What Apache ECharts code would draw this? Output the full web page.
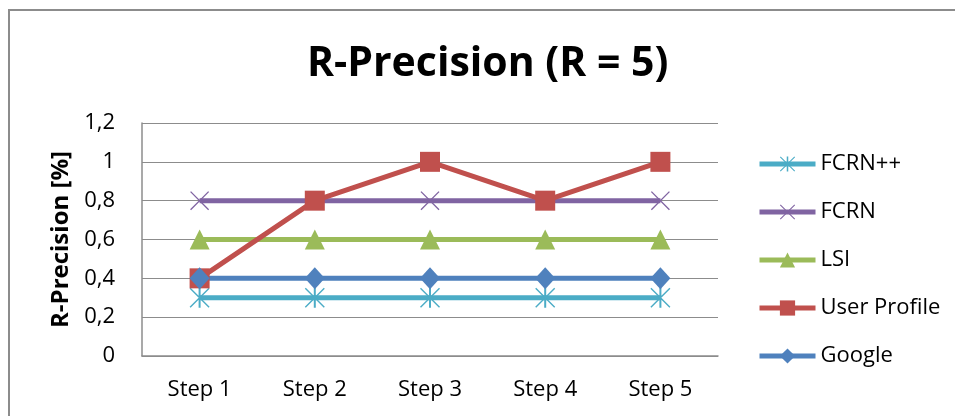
<!DOCTYPE html>
<html>
<head>
<meta charset="utf-8">
<script src="https://cdn.jsdelivr.net/npm/echarts@6/dist/echarts.min.js"></script>
<style>
html,body{margin:0;padding:0;background:#fff;}
#chart{width:955px;height:416px;}
</style>
</head>
<body>
<div id="chart"></div>
<script>
// Categories and series values
const steps = ['Step 1', 'Step 2', 'Step 3', 'Step 4', 'Step 5'];
const fcrnPlusPlus = [0.3, 0.3, 0.3, 0.3, 0.3];
const fcrn = [0.8, 0.8, 0.8, 0.8, 0.8];
const lsi = [0.6, 0.6, 0.6, 0.6, 0.6];
const userProfile = [0.4, 0.8, 1, 0.8, 1];
const google = [0.4, 0.4, 0.4, 0.4, 0.4];

const FONT = '"Open Sans"';

// Marker shapes built from thin filled bars
const crossPath = 'path://M0,5L5,0L100,95L95,100ZM95,0L100,5L5,100L0,95Z';
const asteriskPath = 'path://M0,5L5,0L100,95L95,100ZM95,0L100,5L5,100L0,95ZM45,0L55,0L55,100L45,100Z';

function lineSeries(name, data, color, symbol, size) {
  return {
    name: name,
    type: 'line',
    data: data,
    symbol: symbol,
    symbolSize: size,
    showAllSymbol: true,
    lineStyle: { color: color, width: 5 },
    itemStyle: { color: color },
    emphasis: { disabled: true },
    animation: false
  };
}

const chart = echarts.init(document.getElementById('chart'), null, { renderer: 'canvas' });
chart.setOption({
  backgroundColor: '#fff',
  animation: false,
  title: {
    text: 'R-Precision (R = 5)',
    left: 302,
    top: 39,
    textStyle: { fontFamily: FONT, fontSize: 41, fontWeight: 'bold', color: '#000' }
  },
  graphic: [{
    type: 'rect',
    shape: { x: 9, y: 10, width: 960, height: 420 },
    style: { fill: 'none', stroke: '#8c8c8c', lineWidth: 2 },
    silent: true
  }],
  legend: {
    orient: 'vertical',
    left: 752,
    top: 148,
    itemWidth: 56,
    itemHeight: 19,
    itemGap: 26,
    lineStyle: { width: 5 },
    textStyle: { fontFamily: FONT, fontSize: 22, color: '#000' },
    data: ['FCRN++', 'FCRN', 'LSI', 'User Profile', 'Google']
  },
  grid: { left: 142, top: 123, right: 237, bottom: 60 },
  xAxis: {
    type: 'category',
    data: steps,
    boundaryGap: true,
    axisLine: { lineStyle: { color: '#8c8c8c', width: 1.5 } },
    axisTick: { show: false },
    axisLabel: { fontFamily: FONT, fontSize: 22, color: '#000', margin: 23 }
  },
  yAxis: {
    type: 'value',
    min: 0,
    max: 1.2,
    interval: 0.2,
    name: 'R-Precision [%]',
    nameLocation: 'middle',
    nameGap: 68,
    nameTextStyle: { fontFamily: FONT, fontSize: 24, fontWeight: 'bold', color: '#000' },
    axisLine: { show: true, lineStyle: { color: '#8c8c8c', width: 1.5 } },
    axisTick: { show: false },
    splitLine: { lineStyle: { color: '#8c8c8c', width: 1.2 } },
    axisLabel: {
      fontFamily: FONT, fontSize: 22, color: '#000', margin: 27,
      formatter: v => String(Math.round(v * 10) / 10).replace('.', ',')
    }
  },
  series: [
    lineSeries('FCRN++', fcrnPlusPlus, '#4bacc6', asteriskPath, 20),
    lineSeries('FCRN', fcrn, '#8064a2', crossPath, 19),
    lineSeries('LSI', lsi, '#9bbb59', 'triangle', 20),
    lineSeries('User Profile', userProfile, '#c0504d', 'rect', 20),
    lineSeries('Google', google, '#4f81bd', 'diamond', [20, 22])
  ]
});
</script>
</body>
</html>
